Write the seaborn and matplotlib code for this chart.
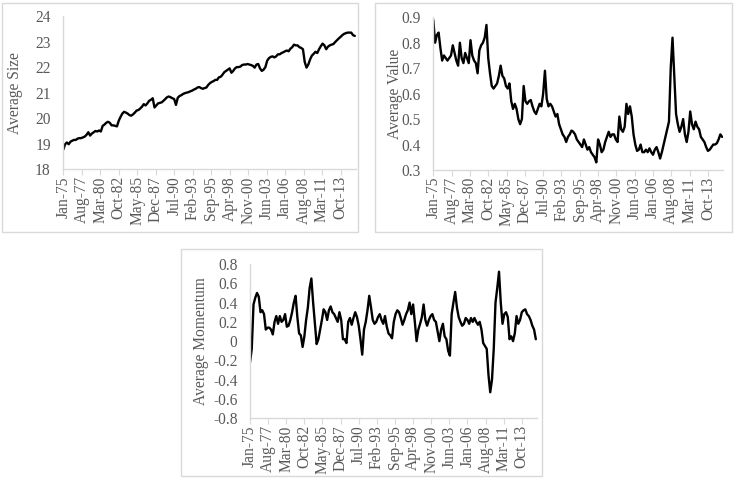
import numpy as np
import pandas as pd
import matplotlib
matplotlib.use("Agg")
import matplotlib.pyplot as plt
import seaborn as sns
from matplotlib.patches import Rectangle

# ---- data (quarterly readings, Jan-75 .. Oct-15) ----
size_values = [
    18.77, 18.98, 19.05, 18.98,  19.08, 19.12, 19.15, 19.15,  19.20, 19.22, 19.22, 19.25,
    19.28, 19.35, 19.45, 19.32,  19.40, 19.45, 19.50, 19.48,  19.52, 19.48, 19.70, 19.75,
    19.82, 19.86, 19.82, 19.72,  19.72, 19.70, 19.68, 19.90,  20.05, 20.18, 20.25, 20.22,
    20.18, 20.12, 20.10, 20.15,  20.22, 20.30, 20.32, 20.38,  20.45, 20.55, 20.50, 20.58,
    20.68, 20.72, 20.78, 20.42,  20.50, 20.58, 20.60, 20.62,  20.68, 20.75, 20.82, 20.85,
    20.82, 20.78, 20.75, 20.52,  20.80, 20.87, 20.90, 20.95,  20.98, 21.00, 21.02, 21.05,
    21.08, 21.12, 21.15, 21.20,  21.22, 21.18, 21.15, 21.18,  21.20, 21.30, 21.37, 21.42,
    21.45, 21.50, 21.50, 21.60,  21.62, 21.70, 21.80, 21.85,  21.90, 21.95, 21.78, 21.85,
    21.95, 22.00, 22.00, 22.02,  22.08, 22.10, 22.10, 22.12,  22.10, 22.08, 22.05, 21.98,
    22.10, 22.12, 21.95, 21.85,  21.90, 22.00, 22.25, 22.35,  22.40, 22.42, 22.38, 22.42,
    22.50, 22.50, 22.55, 22.58,  22.62, 22.65, 22.62, 22.72,  22.78, 22.88, 22.85, 22.85,
    22.78, 22.75, 22.70, 22.20,  21.98, 22.10, 22.30, 22.45,  22.52, 22.60, 22.55, 22.70,
    22.82, 22.92, 22.85, 22.70,  22.80, 22.85, 22.88, 22.90,  22.98, 23.05, 23.12, 23.18,
    23.25, 23.30, 23.33, 23.35,  23.35, 23.35, 23.25, 23.22,
]
value_values = [
    0.89, 0.80, 0.83, 0.84, 0.78, 0.73, 0.75, 0.74, 0.73, 0.74, 0.75, 0.79,
    0.76, 0.73, 0.71, 0.80, 0.74, 0.72, 0.76, 0.74, 0.72, 0.81, 0.75, 0.73,
    0.72, 0.68, 0.77, 0.79, 0.80, 0.82, 0.87, 0.74, 0.68, 0.63, 0.62, 0.63,
    0.64, 0.67, 0.71, 0.67, 0.66, 0.63, 0.62, 0.64, 0.57, 0.54, 0.56, 0.54,
    0.50, 0.48, 0.50, 0.63, 0.57, 0.56, 0.57, 0.575, 0.55, 0.53, 0.52, 0.54,
    0.56, 0.55, 0.60, 0.69, 0.58, 0.55, 0.56, 0.55, 0.53, 0.51, 0.52, 0.48,
    0.46, 0.44, 0.43, 0.41, 0.43, 0.44, 0.455, 0.45, 0.44, 0.42, 0.41, 0.40,
    0.39, 0.42, 0.40, 0.38, 0.39, 0.37, 0.36, 0.35, 0.33, 0.42, 0.40, 0.37,
    0.38, 0.41, 0.43, 0.45, 0.43, 0.44, 0.44, 0.42, 0.41, 0.51, 0.46, 0.45,
    0.47, 0.56, 0.52, 0.55, 0.51, 0.44, 0.40, 0.375, 0.38, 0.40, 0.37, 0.37,
    0.38, 0.37, 0.385, 0.37, 0.36, 0.38, 0.39, 0.37, 0.345, 0.37, 0.40, 0.43,
    0.46, 0.49, 0.70, 0.82, 0.67, 0.52, 0.48, 0.45, 0.47, 0.50, 0.44, 0.41,
    0.45, 0.53, 0.48, 0.46, 0.49, 0.47, 0.46, 0.43, 0.42, 0.41, 0.39, 0.375,
    0.38, 0.39, 0.40, 0.40, 0.405, 0.42, 0.44, 0.43,
]
momentum_values = [
    -0.22, -0.08, 0.38, 0.45, 0.50, 0.46, 0.30, 0.32, 0.28, 0.12, 0.14, 0.14,
    0.12, 0.07, 0.20, 0.26, 0.18, 0.26, 0.20, 0.22, 0.28, 0.15, 0.16, 0.22,
    0.30, 0.40, 0.47, 0.25, 0.08, 0.06, -0.06, 0.05, 0.22, 0.35, 0.55, 0.65,
    0.40, 0.18, -0.03, 0.02, 0.12, 0.22, 0.33, 0.30, 0.22, 0.32, 0.36, 0.30,
    0.28, 0.24, 0.20, 0.30, 0.22, 0.02, 0.02, -0.02, 0.20, 0.24, 0.17, 0.24,
    0.30, 0.25, 0.16, 0.02, -0.14, 0.12, 0.20, 0.32, 0.47, 0.35, 0.22, 0.18,
    0.20, 0.25, 0.28, 0.22, 0.18, 0.26, 0.15, 0.08, 0.06, 0.03, 0.20, 0.28,
    0.32, 0.30, 0.24, 0.17, 0.22, 0.28, 0.32, 0.40, 0.28, 0.38, 0.20, 0.00,
    0.12, 0.18, 0.25, 0.38, 0.22, 0.16, 0.22, 0.26, 0.28, 0.22, 0.20, 0.10,
    0.00, 0.12, 0.18, 0.05, 0.02, -0.10, -0.15, 0.28, 0.40, 0.51, 0.35, 0.25,
    0.20, 0.16, 0.18, 0.24, 0.22, 0.18, 0.24, 0.20, 0.24, 0.20, 0.17, 0.20,
    0.12, -0.02, -0.05, -0.08, -0.35, -0.53, -0.40, -0.08, 0.40, 0.55, 0.72, 0.40,
    0.18, 0.28, 0.30, 0.25, 0.02, 0.05, 0.00, 0.08, 0.26, 0.18, 0.22, 0.30,
    0.32, 0.33, 0.28, 0.26, 0.22, 0.16, 0.12, 0.02,
]
x_tick_labels = ["Jan-75", "Aug-77", "Mar-80", "Oct-82", "May-85", "Dec-87",
                 "Jul-90", "Feb-93", "Sep-95", "Apr-98", "Nov-00", "Jun-03",
                 "Jan-06", "Aug-08", "Mar-11", "Oct-13"]
size_ticks = [18, 19, 20, 21, 22, 23, 24]
size_tick_labels = ["18", "19", "20", "21", "22", "23", "24"]
value_ticks = [0.3, 0.4, 0.5, 0.6, 0.7, 0.8, 0.9]
value_tick_labels = ["0.3", "0.4", "0.5", "0.6", "0.7", "0.8", "0.9"]
mom_ticks = [-0.8, -0.6, -0.4, -0.2, 0.0, 0.2, 0.4, 0.6, 0.8]
mom_tick_labels = ["-0.8", "-0.6", "-0.4", "-0.2", "0", "0.2", "0.4", "0.6", "0.8"]

N_MONTHS = 492
TICK_STEP = 31

sns.set_style("white")
plt.rcParams["font.family"] = ["Liberation Serif", "DejaVu Serif"]

GRAY_TXT = "#595959"
GRAY_LN = "#d9d9d9"

W, H = 737, 492
fig = plt.figure(figsize=(W / 100, H / 100), dpi=100)


def fig_rect(l, t, r, b):
    return [l / W, 1 - b / H, (r - l) / W, (b - t) / H]


# outer chart boxes (Excel chart areas)
for (l, t, r, b) in [(2, 3, 358, 232), (375, 3, 732, 232), (181, 249, 542, 476)]:
    fig.patches.append(Rectangle((l / W, 1 - b / H), (r - l) / W, (b - t) / H,
                                 transform=fig.transFigure, fill=False,
                                 edgecolor=GRAY_LN, linewidth=1.0))

panels = [
    (size_values, "Average Size", (63.3, 16, 356, 169.3), (18, 24), size_ticks, size_tick_labels, 15),
    (value_values, "Average Value", (433.3, 17.3, 723.3, 170), (0.3, 0.9), value_ticks, value_tick_labels, 395),
    (momentum_values, "Average Momentum", (250, 264, 537, 418.3), (-0.8, 0.8), mom_ticks, mom_tick_labels, 200.7),
]

for vals, label, (l, t, r, b), ylim, yt, ytl, lab_x in panels:
    ax = fig.add_axes(fig_rect(l, t, r, b))
    df = pd.DataFrame({"month": np.arange(len(vals)) * 3, "value": vals})
    sns.lineplot(data=df, x="month", y="value", ax=ax, color="black", linewidth=1.7)
    ax.set_xlim(0, N_MONTHS - 1)
    ax.set_ylim(*ylim)
    ax.set_xticks(np.arange(len(x_tick_labels)) * TICK_STEP)
    ax.set_xticklabels(x_tick_labels, rotation=90)
    ax.set_yticks(yt)
    ax.set_yticklabels(ytl)
    ax.set_xlabel("")
    ax.set_ylabel(label, fontsize=11.2, color=GRAY_TXT)
    ax.yaxis.set_label_coords((lab_x - l) / (r - l), 0.5)
    ax.yaxis.label.set_verticalalignment("center")
    for s in ["top", "right"]:
        ax.spines[s].set_visible(False)
    for s in ["left", "bottom"]:
        ax.spines[s].set_color(GRAY_LN)
        ax.spines[s].set_linewidth(1.0)
    ax.tick_params(axis="x", length=4, width=0.8, color=GRAY_LN, pad=1,
                   labelsize=11.2, labelcolor=GRAY_TXT, direction="out", bottom=True)
    ax.tick_params(axis="y", length=0, pad=9, labelsize=11.2, labelcolor=GRAY_TXT)
    ax.grid(False)
    ax.patch.set_alpha(0)

fig.savefig("out.png", dpi=100)
